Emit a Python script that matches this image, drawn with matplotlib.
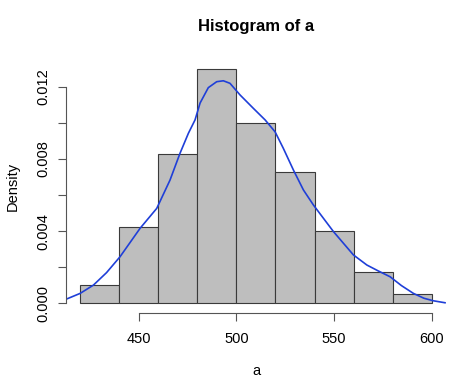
import matplotlib
matplotlib.use("Agg")
import matplotlib.pyplot as plt

plt.rcParams['font.family'] = ['Liberation Sans', 'DejaVu Sans']

# histogram bins (density scale)
bin_edges = [420, 440, 460, 480, 500, 520, 540, 560, 580, 600]
densities = [0.001, 0.00425, 0.00825, 0.013, 0.010, 0.00725, 0.004, 0.00175, 0.0005]

# density curve
curve_x = [413.1, 420.0, 426.8, 433.5, 440.4, 450.7, 459.2, 466.0, 471.1, 475.4, 478.8,
           481.4, 485.6, 489.9, 493.3, 496.7, 501.9, 508.7, 514.7, 519.8, 524.0, 529.2,
           534.3, 539.4, 549.7, 559.9, 566.8, 572.5, 578.7, 584.5, 590.6, 596.0, 600.8,
           606.8]
curve_y = [0.00024, 0.00055, 0.00101, 0.00170, 0.00258, 0.00416, 0.00526, 0.00683, 0.00831,
           0.00942, 0.01016, 0.01110, 0.01195, 0.01228, 0.01233, 0.01219, 0.01154, 0.01080,
           0.01016, 0.00950, 0.00859, 0.00738, 0.00628, 0.00545, 0.00397, 0.00268, 0.00212,
           0.00180, 0.00147, 0.00098, 0.00055, 0.00028, 0.00014, 0.00003]

xticks = [450, 500, 550, 600]
yticks = [0.0, 0.002, 0.004, 0.006, 0.008, 0.010, 0.012]
ytick_labels = ["0.000", "", "0.004", "", "0.008", "", "0.012"]

fig = plt.figure(figsize=(4.74, 3.91), dpi=100)
ax = fig.add_axes([0.1395, 0.2003, 0.801, 0.648])

widths = [b - a for a, b in zip(bin_edges[:-1], bin_edges[1:])]
ax.bar(bin_edges[:-1], densities, width=widths, align='edge',
       color='#bebebe', edgecolor='#3a3a3a', linewidth=0.8)
ax.plot(curve_x, curve_y, color='#1f3fd8', linewidth=1.2)

ax.set_xlim(412.8, 607.2)
ax.set_ylim(-0.00052, 0.01352)

for s in ['top', 'right']:
    ax.spines[s].set_visible(False)
ax.spines['left'].set_bounds(0, 0.012)
ax.spines['bottom'].set_bounds(450, 600)
for s in ['left', 'bottom']:
    ax.spines[s].set_color('#555555')
    ax.spines[s].set_linewidth(0.8)

ax.set_xticks(xticks)
ax.set_yticks(yticks)
ax.set_yticklabels(ytick_labels, rotation=90, va='center')
ax.tick_params(axis='both', direction='out', length=6, width=0.8, color='#555555',
               labelsize=10.5, labelcolor='black')
ax.tick_params(axis='x', pad=8)
ax.tick_params(axis='y', pad=5)

ax.set_xlabel("a", fontsize=10.5, labelpad=13)
ax.set_ylabel("Density", fontsize=10.5, labelpad=12)
fig.text(0.54, 0.933, "Histogram of a", ha='center', va='center',
         fontsize=12, fontweight='bold')

fig.savefig("out.png", dpi=100)
